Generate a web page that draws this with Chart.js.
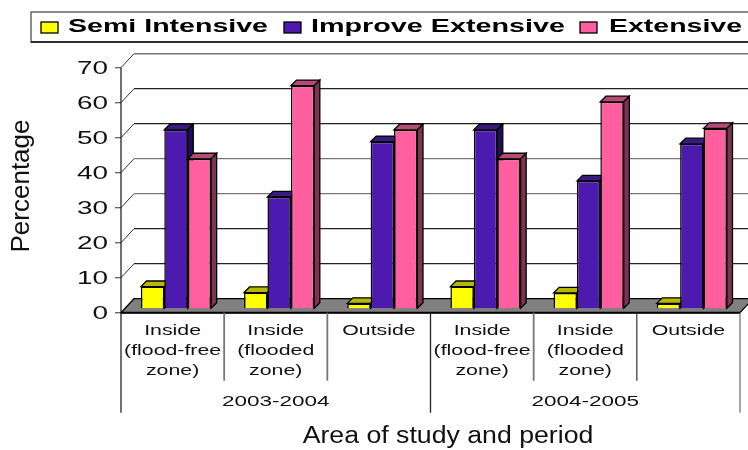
<!DOCTYPE html>
<html>
<head>
<meta charset="utf-8">
<style>
  html, body { margin: 0; padding: 0; background: #fff; }
  canvas { display: block; }
</style>
</head>
<body>
<canvas id="studyChart" width="748" height="450"></canvas>
<script src="https://cdn.jsdelivr.net/npm/chart.js@4"></script>
<script>
const categories = ["Inside (flood-free zone)", "Inside (flooded zone)", "Outside", "Inside (flood-free zone) ", "Inside (flooded zone) ", "Outside "];
const categoryLines = [
  ["Inside", "(flood-free", "zone)"],
  ["Inside", "(flooded", "zone)"],
  ["Outside"],
  ["Inside", "(flood-free", "zone)"],
  ["Inside", "(flooded", "zone)"],
  ["Outside"],
];
const periods = ["2003-2004", "2004-2005"];
const semiIntensive = [6.2, 4.5, 1.4, 6.2, 4.4, 1.4];
const improveExtensive = [51, 31.8, 47.6, 51, 36.4, 47];
const extensive = [42.7, 63.6, 51, 42.7, 59, 51.4];

const FONT = '"Liberation Sans", Arial, sans-serif';
const WALL_X = 13; // offset of the back wall
const WALL_Y = 14;
const BAR_SHIFT_X = 3.4; // bars stand part way into the floor
const BAR_SHIFT_Y = 4.4;
const BAR_DEPTH = 5.6;

// top and side colours for the 3d bar faces
const faces = [
  { top: "#b8b800", side: "#8c8c00" },
  { top: "#3a1a80", side: "#220e58" },
  { top: "#b84a78", side: "#7d3454" },
];

// canvas text can't be widened by font settings, so scale it on x
function wideText(ctx, text, x, y, font, sx, align, color) {
  ctx.save();
  ctx.font = font;
  ctx.fillStyle = color || "#111";
  ctx.textAlign = align || "center";
  ctx.textBaseline = "middle";
  ctx.translate(x, y);
  ctx.scale(sx, 1);
  ctx.fillText(text, 0, 0);
  ctx.restore();
}

function line(ctx, x1, y1, x2, y2, color, width) {
  ctx.strokeStyle = color;
  ctx.lineWidth = width;
  ctx.beginPath();
  ctx.moveTo(x1, y1);
  ctx.lineTo(x2, y2);
  ctx.stroke();
}

function poly(ctx, pts, fill) {
  ctx.beginPath();
  pts.forEach((p, i) => (i ? ctx.lineTo(p[0], p[1]) : ctx.moveTo(p[0], p[1])));
  ctx.closePath();
  ctx.fillStyle = fill;
  ctx.fill();
  ctx.strokeStyle = "#000";
  ctx.lineWidth = 1.3;
  ctx.stroke();
}

const box3d = {
  id: "box3d",
  // back wall gridlines and floor, then the bars left to right so the
  // side faces overlap correctly (the default order is last series first)
  beforeDatasetsDraw(chart) {
    const { ctx, chartArea: area, scales } = chart;
    const y = scales.y;
    const greyLines = [70, 40, 30];
    ctx.save();
    y.ticks.forEach((t) => {
      const py = y.getPixelForValue(t.value);
      const color = greyLines.includes(t.value) ? "#777" : "#222";
      if (t.value > 0) {
        line(ctx, area.left, py, area.left + WALL_X, py - WALL_Y, "#333", 1);
        line(ctx, area.left + WALL_X, py - WALL_Y, area.right + WALL_X, py - WALL_Y, color, t.value === 70 ? 1.5 : 1.2);
      }
      line(ctx, area.left - 6, py, area.left, py, "#555", 1.2);
    });
    const y0 = y.getPixelForValue(0);
    poly(ctx, [
      [area.left, y0],
      [area.left + WALL_X, y0 - WALL_Y],
      [area.right + WALL_X, y0 - WALL_Y],
      [area.right, y0],
    ], "#808080");
    line(ctx, area.left, y0, area.right, y0, "#000", 2);

    chart.data.datasets.forEach((ds, i) => {
      const meta = chart.getDatasetMeta(i);
      const f = faces[i];
      meta.data.forEach((bar) => {
        const p = bar.getProps(["x", "y", "base", "width"], true);
        const l = p.x - p.width / 2 + BAR_SHIFT_X;
        const r = p.x + p.width / 2 + BAR_SHIFT_X;
        const top = p.y - BAR_SHIFT_Y;
        const base = p.base - BAR_SHIFT_Y;
        poly(ctx, [[l, top], [l + BAR_DEPTH, top - BAR_DEPTH], [r + BAR_DEPTH, top - BAR_DEPTH], [r, top]], f.top);
        poly(ctx, [[r, top], [r + BAR_DEPTH, top - BAR_DEPTH], [r + BAR_DEPTH, base - BAR_DEPTH], [r, base]], f.side);
      });
      ctx.save();
      ctx.translate(BAR_SHIFT_X, -BAR_SHIFT_Y);
      meta.controller.draw();
      ctx.restore();
    });
    ctx.restore();
    return false;
  },
  // axis text, category dividers and the legend box
  afterDraw(chart) {
    const { ctx, chartArea: area, scales } = chart;
    const x = scales.x;
    const y = scales.y;
    ctx.save();

    y.ticks.forEach((t) => {
      wideText(ctx, String(t.value), 108, y.getPixelForValue(t.value) + 1, "18px " + FONT, 1.55, "right");
    });

    const step = x.getPixelForValue(1) - x.getPixelForValue(0);
    const y0 = y.getPixelForValue(0);
    categoryLines.forEach((rows, i) => {
      const cx = x.getPixelForValue(i);
      rows.forEach((row, r) => {
        wideText(ctx, row, cx, y0 + 18 + r * 20, "15px " + FONT, 1.42);
      });
      const edge = cx + step / 2;
      if (i % 3 === 2) line(ctx, edge, y0, edge, y0 + 100, i === 2 ? "#222" : "#777", 1.3);
      else line(ctx, edge, y0, edge, y0 + 68, i === 4 ? "#333" : "#777", i === 4 ? 1.2 : 1.8);
    });
    line(ctx, area.left, y.getPixelForValue(70), area.left, y0 + 100, "#111", 1.2);
    periods.forEach((p, i) => {
      const cx = (x.getPixelForValue(i * 3) + x.getPixelForValue(i * 3 + 2)) / 2;
      wideText(ctx, p, cx, y0 + 89, "15px " + FONT, 1.5);
    });

    wideText(ctx, "Area of study and period", 448, 437, "23px " + FONT, 1.16);
    ctx.save();
    ctx.translate(22, 186);
    ctx.rotate(-Math.PI / 2);
    wideText(ctx, "Percentage", 0, 0, "25px " + FONT, 1.04);
    ctx.restore();

    // legend
    ctx.strokeStyle = "#666";
    ctx.lineWidth = 1.5;
    ctx.strokeRect(31, 12, 730, 30);
    line(ctx, 31, 42, 748, 42, "#111", 1.3);
    const swatchX = [41, 284, 580];
    const textX = [68, 311, 609];
    const textW = [200, 254, 133];
    chart.data.datasets.forEach((ds, i) => {
      ctx.fillStyle = ds.backgroundColor;
      ctx.fillRect(swatchX[i], 22, 17, 11);
      ctx.strokeStyle = "#000";
      ctx.lineWidth = 1.3;
      ctx.strokeRect(swatchX[i], 22, 17, 11);
      ctx.font = "bold 18px " + FONT;
      const sx = textW[i] / ctx.measureText(ds.label).width;
      wideText(ctx, ds.label, textX[i], 27, "bold 18px " + FONT, sx, "left", "#000");
    });
    ctx.restore();
  },
};

new Chart(document.getElementById("studyChart").getContext("2d"), {
  type: "bar",
  data: {
    labels: categories,
    datasets: [
      { label: "Semi Intensive", data: semiIntensive, backgroundColor: "#ffff00" },
      { label: "Improve Extensive", data: improveExtensive, backgroundColor: "#4c1aae" },
      { label: "Extensive", data: extensive, backgroundColor: "#ff5f9e" },
    ],
  },
  options: {
    responsive: false,
    animation: false,
    layout: { padding: { left: 121, right: 8, top: 67.7, bottom: 137.3 } },
    datasets: {
      bar: {
        categoryPercentage: 0.68,
        barPercentage: 1,
        borderColor: "#000",
        borderWidth: 1.5,
        clip: false,
      },
    },
    plugins: { legend: { display: false }, tooltip: { enabled: false } },
    scales: {
      x: {
        grid: { display: false },
        border: { display: false },
        ticks: { display: false },
        afterFit: (s) => { s.height = 0; },
      },
      y: {
        min: 0,
        max: 70,
        grid: { display: false },
        border: { display: false },
        ticks: { display: false, stepSize: 10 },
        afterFit: (s) => { s.width = 0; },
      },
    },
  },
  plugins: [box3d],
});
</script>
</body>
</html>
